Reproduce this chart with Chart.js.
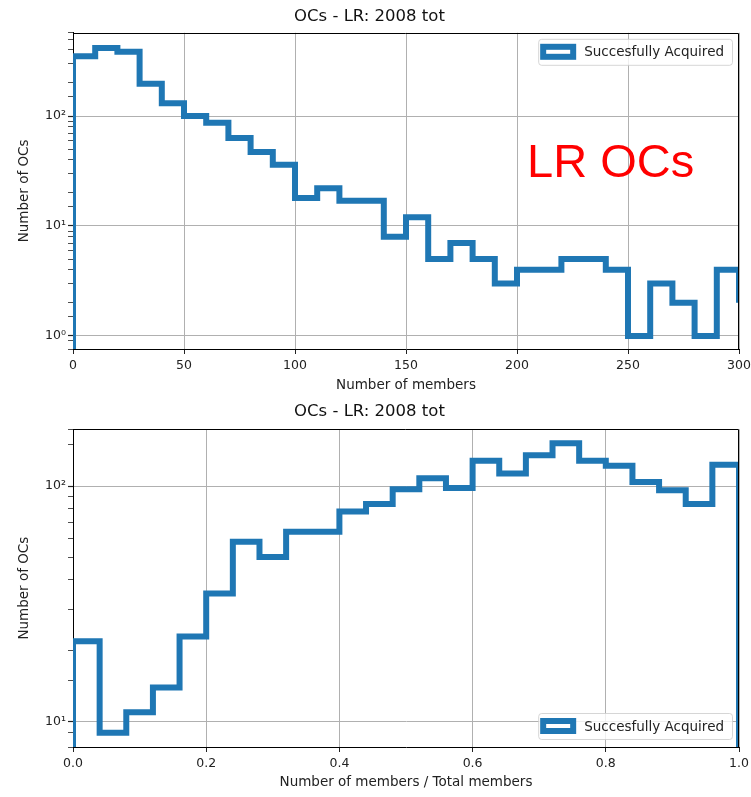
<!DOCTYPE html>
<html>
<head>
<meta charset="utf-8">
<script src="https://cdn.jsdelivr.net/npm/chart.js@4.4.1/dist/chart.umd.min.js"></script>
<style>
  html, body { margin: 0; padding: 0; background: #fff; }
  #page { position: relative; width: 751px; height: 797px; overflow: hidden; }
  canvas { position: absolute; left: 0; }
  #topChart { top: 0; }
  #bottomChart { top: 395px; }
  #tag {
    position: absolute; left: 527px; top: 137px;
    font: 47px "Liberation Sans", Arial, sans-serif; line-height: 48px;
    color: #ff0000; white-space: nowrap;
  }
</style>
</head>
<body>
<div id="page">
  <canvas id="topChart" width="751" height="395"></canvas>
  <canvas id="bottomChart" width="751" height="402"></canvas>
  <div id="tag">LR OCs</div>
</div>
<script>
const chartTitle = 'OCs - LR: 2008 tot';
const legendLabel = 'Succesfully Acquired';
const histColor = '#1f77b4';

// top panel: left bin edges (10 members wide) and counts per bin
// the last count belongs to the bin just past the x limit
const memberEdges = [0, 10, 20, 30, 40, 50, 60, 70, 80, 90, 100, 110, 120, 130, 140, 150,
  160, 170, 180, 190, 200, 210, 220, 230, 240, 250, 260, 270, 280, 290, 300];
const memberCounts = [350, 415, 385, 197, 131, 100, 87, 63, 47, 36, 18, 22, 17, 17, 8, 12,
  5, 7, 5, 3, 4, 4, 5, 5, 4, 1, 3, 2, 1, 4, 2];

// bottom panel: left bin edges (fraction of total members) and counts per bin
const fractionEdges = [0, 0.04, 0.08, 0.12, 0.16, 0.2, 0.24, 0.28, 0.32, 0.36, 0.4, 0.44, 0.48,
  0.52, 0.56, 0.6, 0.64, 0.68, 0.72, 0.76, 0.8, 0.84, 0.88, 0.92, 0.96, 1.0];
const fractionCounts = [22, 9, 11, 14, 23, 35, 58, 50, 64, 64, 78, 84, 97,
  108, 98, 128, 113, 135, 152, 128, 122, 104, 96, 84, 123];

// axis limits
const memberRange = [0, 300];
const fractionRange = [0, 1];
const memberCountRange = [0.76, 572];
const fractionCountRange = [7.83, 174];

// empty bins sit below the log axis (matplotlib draws them down to 0)
const histFloor = 0.1;

Chart.defaults.font.family = '"DejaVu Sans", sans-serif';
Chart.defaults.color = '#222';

const superscripts = ['⁰', '¹', '²', '³'];
function isDecade(v) {
  const e = Math.log10(v);
  return Math.abs(e - Math.round(e)) < 1e-9;
}

function stepPoints(edges, counts) {
  const pts = [{x: edges[0], y: histFloor}];
  edges.forEach((e, i) => {
    pts.push({x: e, y: i < counts.length ? counts[i] : histFloor});
  });
  return pts;
}

// matplotlib style legend box drawn inside the axes
const legendBox = {
  id: 'legendBox',
  afterDraw(chart, args, opts) {
    const {ctx, chartArea} = chart;
    ctx.save();
    ctx.font = '13.5px "DejaVu Sans"';
    const textW = ctx.measureText(opts.text).width;
    const w = 46 + textW + 8, h = 26;
    const x = chartArea.right - 7 - w;
    const y = opts.corner === 'top' ? chartArea.top + 6 : chartArea.bottom - 8 - h;
    ctx.globalAlpha = 0.8;
    ctx.fillStyle = '#fff';
    ctx.beginPath();
    ctx.roundRect(x + 0.5, y + 0.5, w, h, 3);
    ctx.fill();
    ctx.strokeStyle = '#cccccc';
    ctx.lineWidth = 1;
    ctx.stroke();
    ctx.globalAlpha = 1;
    ctx.fillStyle = '#fff';
    ctx.strokeStyle = histColor;
    ctx.lineWidth = 6;
    ctx.fillRect(x + 5, y + 8, 30, 10);
    ctx.strokeRect(x + 5, y + 8, 30, 10);
    ctx.fillStyle = '#222';
    ctx.textBaseline = 'middle';
    ctx.fillText(opts.text, x + 46, y + h / 2 + 1);
    ctx.restore();
  }
};

// top and right spines
const frame = {
  id: 'frame',
  afterDatasetsDraw(chart) {
    const {ctx, chartArea} = chart;
    ctx.save();
    ctx.strokeStyle = '#000';
    ctx.lineWidth = 1;
    ctx.beginPath();
    ctx.moveTo(chartArea.left, Math.round(chartArea.top) + 0.5);
    ctx.lineTo(Math.round(chartArea.right) - 0.5, Math.round(chartArea.top) + 0.5);
    ctx.lineTo(Math.round(chartArea.right) - 0.5, chartArea.bottom);
    ctx.stroke();
    ctx.restore();
  }
};

function makeChart(id, cfg) {
  return new Chart(document.getElementById(id), {
    type: 'line',
    data: {
      datasets: [{
        label: legendLabel,
        data: stepPoints(cfg.edges, cfg.counts),
        borderColor: histColor,
        backgroundColor: '#fff',
        borderWidth: 6,
        borderJoinStyle: 'miter',
        pointRadius: 0,
        stepped: 'before',
        fill: false
      }]
    },
    options: {
      responsive: false,
      animation: false,
      events: [],
      layout: {padding: {left: 0, right: 12, top: 0, bottom: 0}},
      plugins: {
        legend: {display: false},
        tooltip: {enabled: false},
        title: {
          display: true,
          text: chartTitle,
          color: '#111',
          font: {size: 16.5, weight: 'normal'},
          padding: {top: cfg.titleTop, bottom: cfg.titleBottom}
        },
        legendBox: {text: legendLabel, corner: cfg.legendCorner}
      },
      scales: {
        x: {
          type: 'linear',
          min: cfg.xRange[0],
          max: cfg.xRange[1],
          afterFit: (s) => {
            s.height = cfg.xAxisHeight;
            // let the end labels hang over the edge like matplotlib does
            s.paddingLeft = 0;
            s.paddingRight = 0;
          },
          border: {color: '#000', width: 1},
          grid: {color: '#b0b0b0', lineWidth: 1, tickLength: 5, tickColor: '#222'},
          ticks: {
            stepSize: cfg.xStep,
            autoSkip: false,
            maxRotation: 0,
            padding: 4,
            font: {size: 12.5},
            callback: cfg.xLabel
          },
          title: {
            display: true,
            text: cfg.xTitle,
            font: {size: 13.5},
            padding: {top: 0, bottom: cfg.xTitlePad}
          }
        },
        y: {
          type: 'logarithmic',
          min: cfg.yRange[0],
          max: cfg.yRange[1],
          afterFit: (s) => { s.width = 73; s.paddingTop = 0; s.paddingBottom = 0; },
          border: {color: '#000', width: 1},
          grid: {
            color: (c) => (c.tick && isDecade(c.tick.value)) ? '#b0b0b0' : 'rgba(0,0,0,0)',
            lineWidth: 1,
            tickLength: 5,
            tickColor: '#222',
            tickWidth: (c) => (c.tick && isDecade(c.tick.value)) ? 1.2 : 0.8
          },
          ticks: {
            autoSkip: false,
            padding: 2,
            font: {size: 12.5},
            callback: (v) => isDecade(v) ? '10' + superscripts[Math.round(Math.log10(v))] : ''
          },
          title: {
            display: true,
            text: 'Number of OCs',
            font: {size: 13.5},
            padding: {top: 16, bottom: 0}
          }
        }
      }
    },
    plugins: [frame, legendBox]
  });
}

makeChart('topChart', {
  edges: memberEdges,
  counts: memberCounts,
  xRange: memberRange,
  yRange: memberCountRange,
  xStep: 50,
  xLabel: (v) => String(v),
  xTitle: 'Number of members',
  xAxisHeight: 46,
  xTitlePad: 1,
  titleTop: 7,
  titleBottom: 6,
  legendCorner: 'top'
});

makeChart('bottomChart', {
  edges: fractionEdges,
  counts: fractionCounts,
  xRange: fractionRange,
  yRange: fractionCountRange,
  xStep: 0.2,
  xLabel: (v) => v.toFixed(1),
  xTitle: 'Number of members / Total members',
  xAxisHeight: 50,
  xTitlePad: 6,
  titleTop: 7,
  titleBottom: 7.5,
  legendCorner: 'bottom'
});
</script>
</body>
</html>
